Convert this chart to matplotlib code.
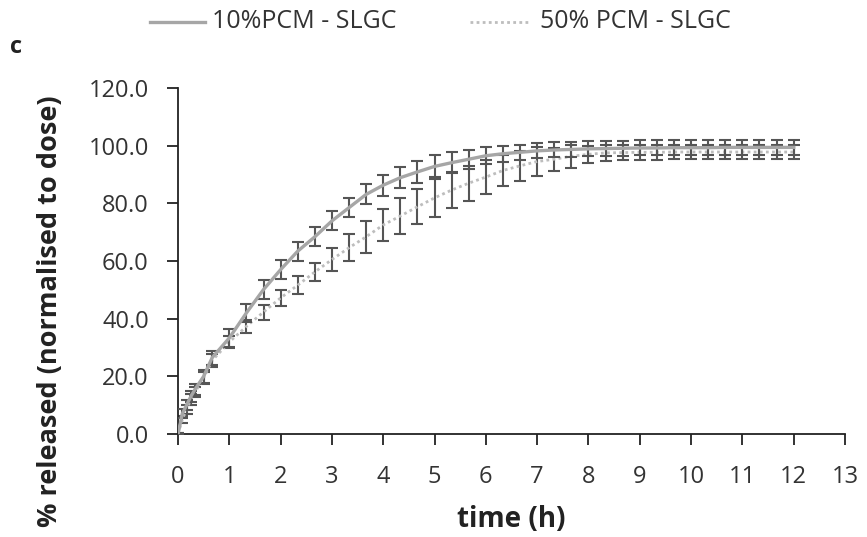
import matplotlib
matplotlib.use("Agg")
import matplotlib.pyplot as plt
from matplotlib.lines import Line2D

plt.rcParams['font.family'] = ['Open Sans', 'DejaVu Sans']

time_h = [0, 0.083, 0.167, 0.25, 0.333, 0.5, 0.667, 1.0, 1.333, 1.667, 2.0, 2.333, 2.667,
          3.0, 3.333, 3.667, 4.0, 4.333, 4.667, 5.0, 5.333, 5.667, 6.0, 6.333, 6.667,
          7.0, 7.333, 7.667, 8.0, 8.333, 8.667, 9.0, 9.333, 9.667, 10.0, 10.333, 10.667,
          11.0, 11.333, 11.667, 12.0]

pcm10 = [0.0, 7.0, 10.0, 13.0, 15.5, 20.0, 26.5, 33.3, 42.0, 50.1, 57.0, 63.4, 68.4,
         73.9, 78.5, 83.1, 86.3, 88.9, 90.9, 92.8, 94.1, 95.3, 96.5, 97.2, 97.7,
         98.2, 98.5, 98.7, 98.9, 99.0, 99.1, 99.2, 99.2, 99.3, 99.3, 99.3, 99.4,
         99.4, 99.4, 99.4, 99.4]
pcm10_sd = [0.5, 1.5, 1.8, 2.0, 2.0, 2.2, 2.4, 3.0, 3.2, 3.2, 3.3, 3.3, 3.3,
            3.3, 3.4, 3.5, 3.6, 3.7, 3.8, 3.8, 3.6, 3.3, 3.0, 2.8, 2.7,
            2.6, 2.6, 2.6, 2.6, 2.6, 2.6, 2.6, 2.6, 2.6, 2.6, 2.6, 2.6,
            2.6, 2.6, 2.6, 2.6]

pcm50 = [0.0, 5.0, 8.5, 12.0, 14.5, 19.5, 25.5, 31.9, 37.3, 42.3, 47.2, 51.6, 56.2,
         60.5, 64.6, 68.4, 72.5, 75.6, 78.8, 81.9, 84.6, 87.0, 89.1, 91.4, 93.0,
         94.5, 95.3, 96.3, 97.0, 97.5, 97.6, 97.7, 97.7, 97.8, 97.8, 97.8, 97.8,
         97.8, 97.8, 97.8, 97.8]
pcm50_sd = [0.5, 1.2, 1.5, 1.8, 1.8, 2.0, 2.2, 2.0, 2.3, 2.6, 2.9, 3.2, 3.2,
            4.0, 4.6, 5.5, 5.5, 6.4, 6.1, 6.5, 6.1, 6.1, 5.8, 5.3, 5.2,
            4.9, 4.0, 4.0, 2.9, 2.9, 2.6, 2.5, 2.5, 2.4, 2.4, 2.4, 2.4,
            2.4, 2.4, 2.4, 2.4]

series_names = ['10%PCM - SLGC', '50% PCM - SLGC']
y_ticks = [0, 20, 40, 60, 80, 100, 120]
x_ticks = list(range(0, 14))

W, H = 867, 537
fig = plt.figure(figsize=(W / 100, H / 100), dpi=100)
ax = fig.add_axes([178 / W, 1 - 434 / H, (845 - 178) / W, (434 - 88) / H])

ebar_color = '#555555'
c10, c50 = '#a6a6a6', '#bdbdbd'
dot = (0, (1, 1.2))
ax.errorbar(time_h, pcm10, yerr=pcm10_sd, color=c10, lw=2.4,
            ecolor=ebar_color, elinewidth=1.5, capsize=4, capthick=1.5, zorder=3)
ax.errorbar(time_h, pcm50, yerr=pcm50_sd, color=c50, lw=2.0, ls=dot,
            ecolor=ebar_color, elinewidth=1.5, capsize=4, capthick=1.5, zorder=2)

ax.set_xlim(0, 13)
ax.set_ylim(0, 120)
ax.set_xticks(x_ticks)
ax.set_yticks(y_ticks)
ax.set_yticklabels([f"{v:.1f}" for v in y_ticks])
ax.spines['top'].set_visible(False)
ax.spines['right'].set_visible(False)
for s in ('left', 'bottom'):
    ax.spines[s].set_color('#222222')
    ax.spines[s].set_linewidth(1.3)
ax.tick_params(axis='both', direction='out', length=8, width=1.3, color='#222222',
               labelsize=17, labelcolor='#333333')
ax.tick_params(axis='y', pad=13)
ax.tick_params(axis='x', pad=14)

ax.set_xlabel('time (h)', fontsize=20, fontweight='bold', color='#222222', labelpad=12)
ax.set_ylabel('% released (normalised to dose)', fontsize=19.5, fontweight='bold',
              color='#222222')
ax.yaxis.set_label_coords((63 - 178) / 667, (434 - 311) / 346)

# legend (drawn manually at the top)
ly = 1 - 22 / H
fig.add_artist(Line2D([150 / W, 205 / W], [ly, ly], color=c10, lw=2.4))
fig.text(212 / W, ly, series_names[0], fontsize=18, color='#333333', va='center', ha='left')
fig.add_artist(Line2D([470 / W, 528 / W], [ly, ly], color=c50, lw=2.0, ls=dot))
fig.text(540 / W, ly, series_names[1], fontsize=18, color='#333333', va='center', ha='left')

fig.text(10 / W, 1 - 47 / H, 'c', fontsize=17, fontweight='bold', color='#222222',
         va='center', ha='left')

fig.savefig('out.png', dpi=100)
